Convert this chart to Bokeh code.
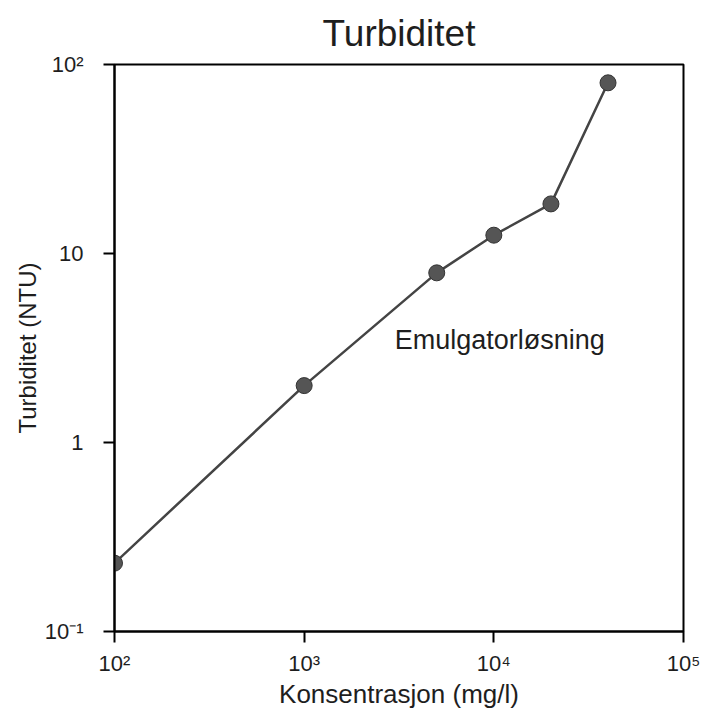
from bokeh.plotting import figure
from bokeh.models import FixedTicker, Label, ColumnDataSource
from bokeh.embed import file_html
from bokeh.resources import INLINE

# Data
konsentrasjon = [100, 1000, 5000, 10000, 20000, 40000]   # mg/l
turbiditet = [0.23, 2.0, 7.9, 12.5, 18.3, 80.0]           # NTU

x_ticks = [100, 1000, 10000, 100000]
x_tick_labels = ["10²", "10³", "10⁴", "10⁵"]
y_ticks = [0.1, 1, 10, 100]
y_tick_labels = ["10⁻¹", "1", "10", "10²"]

title_text = "Turbiditet"
x_label = "Konsentrasjon (mg/l)"
y_label = "Turbiditet (NTU)"
annotation = "Emulgatorløsning"

FONT = "Liberation Sans"
INK = "#1e1e1e"

src = ColumnDataSource(dict(x=konsentrasjon, y=turbiditet))

p = figure(width=701, height=715,
           x_axis_type="log", y_axis_type="log",
           x_range=(1e2, 1e5), y_range=(1e-1, 1e2),
           output_backend="svg", toolbar_location=None,
           title=title_text,
           min_border_left=114, min_border_right=18,
           min_border_top=64, min_border_bottom=84)

p.title.text_font = FONT
p.title.text_font_size = "37px"
p.title.text_font_style = "normal"
p.title.text_color = INK
p.title.align = "center"
p.title.offset = 6
p.title.standoff = 21

p.grid.visible = False
p.outline_line_color = "black"
p.outline_line_width = 2
p.background_fill_color = "white"
p.border_fill_color = "white"

p.xaxis.ticker = FixedTicker(ticks=x_ticks)
p.yaxis.ticker = FixedTicker(ticks=y_ticks)
p.xaxis.major_label_overrides = {t: l for t, l in zip(x_ticks, x_tick_labels)}
p.yaxis.major_label_overrides = {t: l for t, l in zip(y_ticks, y_tick_labels)}
p.xaxis.axis_label = x_label
p.yaxis.axis_label = y_label

for ax in (p.xaxis, p.yaxis):
    ax.axis_line_width = 2
    ax.axis_line_color = "black"
    ax.major_tick_line_width = 2
    ax.major_tick_line_color = "black"
    ax.major_tick_in = 0
    ax.major_tick_out = 11
    ax.minor_tick_in = 0
    ax.minor_tick_out = 0
    ax.major_label_text_font = FONT
    ax.major_label_text_font_size = "22px"
    ax.major_label_text_color = INK
    ax.axis_label_text_font = FONT
    ax.axis_label_text_font_style = "normal"
    ax.axis_label_text_color = INK

p.xaxis.major_label_standoff = 8
p.yaxis.major_label_standoff = 20
p.xaxis.axis_label_text_font_size = "26px"
p.yaxis.axis_label_text_font_size = "24px"
p.xaxis.axis_label_standoff = 0
p.yaxis.axis_label_standoff = 1

p.line("x", "y", source=src, line_color="#444444", line_width=2.5)
p.scatter("x", "y", source=src, size=16, fill_color="#555555",
          line_color="#333333", line_width=1)

p.add_layout(Label(x=3000, y=3.5, text=annotation,
                   text_font=FONT, text_font_size="27px",
                   text_color=INK, text_baseline="alphabetic"))

open("out.html", "w").write(file_html(p, INLINE))
